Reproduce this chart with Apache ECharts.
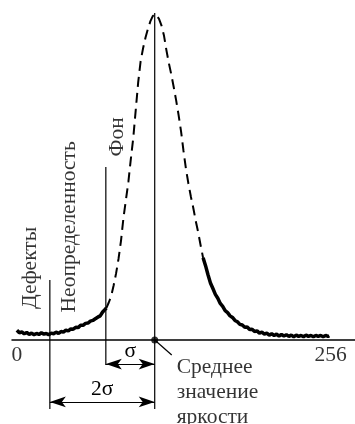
<!DOCTYPE html>
<html><head><meta charset="utf-8">
<script src="https://cdn.jsdelivr.net/npm/echarts@6/dist/echarts.min.js"></script>
<style>html,body{margin:0;padding:0;background:#fff}#c{width:355px;height:424px}</style>
</head><body><div id="c"></div>
<script>
// brightness axis ticks
const tickValues = [0, 256];
const tickLabels = ['0', '256'];

// histogram: noisy left tail (solid)
const leftTail = [[0,3.0],[2,2.2],[4,2.5],[6,1.9],[8,2.3],[10,1.7],[12,2.1],[14,1.6],[16,2.0],[18,1.7],
  [20,2.2],[22,1.8],[24,2.0],[26,1.6],[28,2.1],[30,1.9],[32,2.4],[34,2.0],[36,2.6],[38,2.4],[40,3.0],
  [42,2.8],[44,3.4],[46,3.3],[48,3.9],[50,3.8],[52,4.5],[54,4.5],[56,5.1],[58,5.2],[60,5.8],[62,6.0],
  [64,6.5],[66,7.0],[68,7.4],[70,8.6],[72,9.4],[73,9.8]];
// histogram: central part (dashed)
const centerPart = [[73,9.8],[75,11.5],[77,13.5],[79,16.8],[81,20.5],[83,25.0],[85,30.5],[87,37.5],
  [89,43.0],[91,48.5],[93,55.5],[95,62.0],[97,70.5],[99,79.0],[101,85.5],[103,89.5],[105,92.8],
  [107,95.5],[109,97.8],[111,99.4],[113,100.0],[114,100.0],[116,98.5],[118,96.5],[120,93.5],[122,89.0],
  [124,85.0],[126,81.5],[128,77.6],[130,73.5],[132,69.0],[134,64.0],[136,58.0],[138,52.5],[140,48.0],
  [142,44.0],[144,40.5],[146,36.5],[148,33.0],[150,29.0],[152,25.2]];
// histogram: noisy right tail (solid)
const rightTail = [[152,25.2],[154,22.8],[156,20.0],[158,17.5],[160,15.8],[162,14.0],[164,12.8],[166,11.2],
  [168,10.3],[170,9.0],[172,8.4],[174,7.4],[176,6.9],[178,6.0],[180,5.6],[182,4.8],[184,4.6],[186,3.9],
  [188,4.0],[190,3.2],[192,3.3],[194,2.6],[196,2.8],[198,2.1],[200,2.4],[202,1.8],[204,2.1],[206,1.5],
  [208,1.9],[210,1.4],[212,1.8],[214,1.2],[216,1.7],[218,1.2],[220,1.6],[222,1.1],[224,1.5],[226,1.0],
  [228,1.5],[230,1.1],[232,1.4],[234,1.0],[236,1.5],[238,1.1],[240,1.4],[242,1.0],[244,1.4],[246,1.1],
  [248,1.4],[250,1.0],[252,1.4],[254,1.1],[255,1.3]];

// key brightness levels
const meanX = 112.5, fonX = 72.6, defectX = 26.9;
// vertical marker lines [x, yTop, yBottom]
const vLines = [[defectX, 18.4, -21.2], [fonX, 53.1, -7.7], [meanX, 100.3, -21.2]];
// dimension arrows [xFrom, xTo, y, label]
const arrows = [[fonX, meanX, -7.4, 'σ'], [defectX, meanX, -19.0, '2σ']];
// rotated labels [x, y, text]
const vTexts = [[10.6, 22.1, 'Дефекты'], [43.2, 34.7, 'Неопределенность'], [82.3, 62.3, 'Фон']];
const meanText = 'Среднее\nзначение\nяркости';
const meanTextPos = [130.4, -16.0];
const leaderEnd = [126.4, -4.6];

const FONT = '"Liberation Serif", "DejaVu Serif", serif';
const FS = 21.5;
const K = '#000';

const series = [
  {type:'line', data:leftTail, symbol:'none', lineStyle:{color:K, width:3.5}, silent:true},
  {type:'line', data:centerPart, symbol:'none', lineStyle:{color:K, width:2, type:[10,6]}, silent:true},
  {type:'line', data:rightTail, symbol:'none', lineStyle:{color:K, width:3.5}, silent:true},
];
vLines.forEach(v => series.push({type:'line', data:[[v[0],v[1]],[v[0],v[2]]], symbol:'none',
  lineStyle:{color:K, width:1.2}, silent:true}));
series.push({type:'line', data:[[meanX,0], leaderEnd], symbol:'none', lineStyle:{color:K, width:1.2}, silent:true});
series.push({type:'scatter', data:[[meanX,0]], symbolSize:7, itemStyle:{color:K}, silent:true});
// tick labels along the brightness axis
series.push({type:'scatter', symbolSize:0, silent:true,
  data: tickValues.map((v,i) => ({value:[v,0], label:{formatter:tickLabels[i]}})),
  label:{show:true, position:'bottom', distance:4, color:K, fontFamily:FONT, fontSize:FS}});
series.push({type:'scatter', symbolSize:0, silent:true,
  data: vTexts.map(t => ({value:[t[0],t[1]], label:{formatter:t[2]}})),
  label:{show:true, position:'inside', rotate:90, color:K, fontFamily:FONT, fontSize:FS},
  markLine:{silent:true, animation:false, symbol:['arrow','arrow'], symbolSize:[8,16],
    lineStyle:{color:K, width:1.2, type:'solid'},
    label:{show:true, position:'middle', color:K, fontFamily:FONT, fontSize:FS, distance:2},
    data: arrows.map(a => [{coord:[a[0],a[2]], label:{formatter:a[3]}},{coord:[a[1],a[2]]}])}
});
series.push({type:'scatter', symbolSize:0, silent:true,
  data:[{value:meanTextPos}],
  label:{show:true, position:'right', distance:0, formatter:meanText, color:K, fontFamily:FONT,
    fontSize:FS, lineHeight:25, align:'left'}});

const chart = echarts.init(document.getElementById('c'), null, {renderer:'canvas'});
chart.setOption({
  animation:false,
  backgroundColor:'#fff',
  grid:{left:12, right:0, top:0, bottom:0, containLabel:false, outerBoundsMode:'none'},
  xAxis:{type:'value', min:-4, max:276,
    axisLine:{show:true, onZero:true, lineStyle:{color:K, width:1.5}},
    axisTick:{show:false}, splitLine:{show:false}, axisLabel:{show:false}},
  yAxis:{type:'value', min:-25.77, max:104.29, show:false, splitLine:{show:false}},
  series
});
</script></body></html>
